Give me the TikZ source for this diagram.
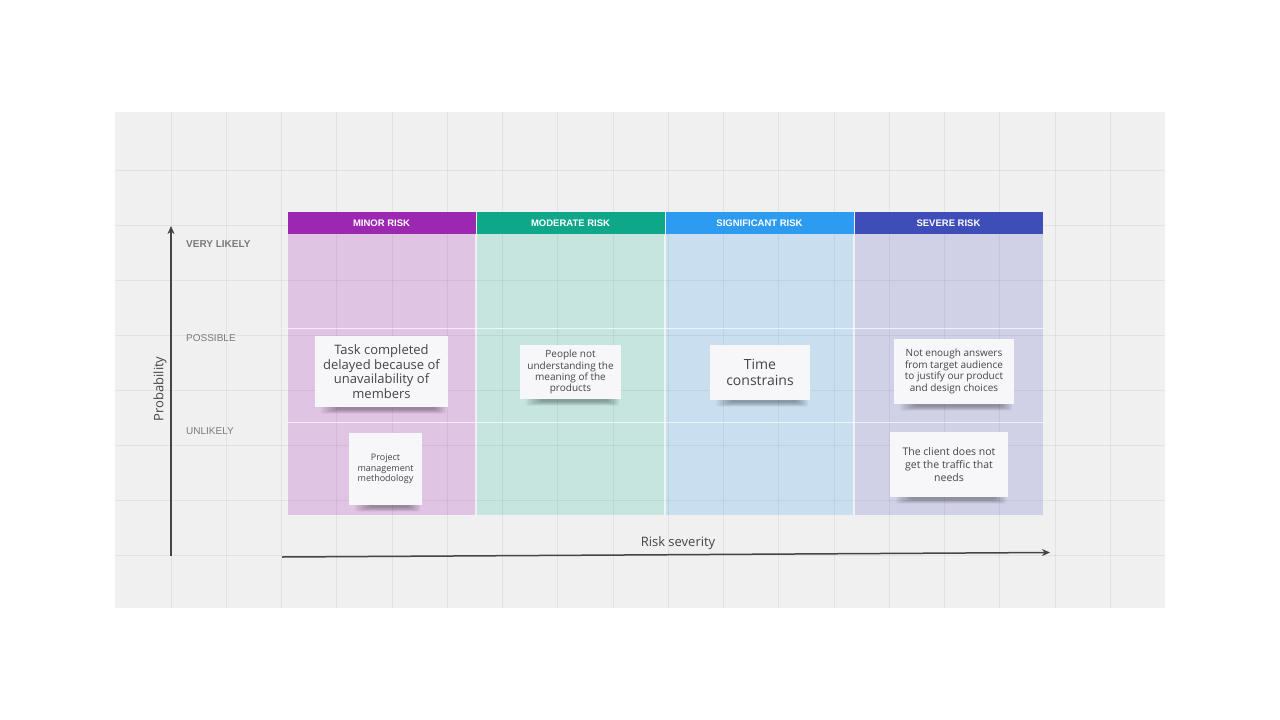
\documentclass[tikz,border=0pt]{standalone}
\usepackage{fontspec}
\setmainfont{Open Sans}
\newfontfamily\headfont{Liberation Sans}
\usetikzlibrary{arrows.meta}

\definecolor{boardbg}{HTML}{F0F0F0}
\definecolor{minorH}{HTML}{9C27B0}
\definecolor{moderateH}{HTML}{0FA789}
\definecolor{significantH}{HTML}{2D9BF0}
\definecolor{severeH}{HTML}{3F4DB8}
\definecolor{minorB}{HTML}{E0C4E4}
\definecolor{moderateB}{HTML}{C5E5DE}
\definecolor{significantB}{HTML}{C9DFF0}
\definecolor{severeB}{HTML}{D0D1E7}
\definecolor{notefill}{HTML}{F7F7F9}
\definecolor{notetext}{HTML}{454545}
\definecolor{axiscol}{HTML}{454545}
\definecolor{labelcol}{HTML}{7A7A7A}

\pgfdeclarelayer{shade}
\pgfdeclarelayer{notes}
\pgfsetlayers{main,shade,notes}

\tikzset{
  header/.style={minimum width=188pt, minimum height=22pt, inner sep=0pt,
    text=white, font=\headfont\bfseries\fontsize{9.5}{11}\selectfont},
  cell/.style={minimum width=188pt, minimum height=281pt, inner sep=0pt},
  rowlabel/.style={anchor=west, text=labelcol, inner sep=0pt,
    font=\headfont\fontsize{10}{11}\selectfont},
  note/.style={fill=notefill, inner sep=0pt, align=center, text=notetext},
  gridline/.style={black, opacity=0.055, line width=1pt},
  axis/.style={draw=axiscol, line width=1.5pt, -{Stealth[length=8pt,width=7pt,inset=2.5pt]}},
}

% soft shadow strip under the lower edge of a note
\newcommand{\noteshadow}[1]{%
  \foreach \k in {0,...,7}{%
    \fill[black, opacity=0.045, rounded corners=2pt]
      ([xshift={6pt+2.2pt*\k},yshift=1pt]#1.south west)
      rectangle ([xshift={-2pt-1.6pt*\k},yshift={-6.5pt+0.6pt*\k}]#1.south east);
  }%
}

\begin{document}
\begin{tikzpicture}[x=1pt,y=-1pt]
\useasboundingbox (0,0) rectangle (1280,720);
\fill[white] (0,0) rectangle (1280,720);

% whiteboard
\fill[boardbg] (115,112) rectangle (1165,608);

% matrix body
\node[cell, fill=minorB]       (c1) at (381.5,374.5) {};
\node[cell, fill=moderateB]    (c2) at (570.5,374.5) {};
\node[cell, fill=significantB] (c3) at (759.5,374.5) {};
\node[cell, fill=severeB]      (c4) at (948.5,374.5) {};

% board grid, seen through the matrix
\foreach \i in {0,...,17}
  \draw[gridline] ({171+55.25*\i},112) -- ({171+55.25*\i},608);
\foreach \j in {0,...,7}
  \draw[gridline] (115,{170+55.1*\j}) -- (1165,{170+55.1*\j});

% row and column separators
\draw[white, opacity=0.7, line width=1pt] (c1.west |- 0,328) -- (c4.east |- 0,328);
\draw[white, opacity=0.7, line width=1pt] (c1.west |- 0,422) -- (c4.east |- 0,422);
\draw[white, opacity=0.7, line width=1pt] (c1.north east) -- (c1.south east);
\draw[white, opacity=0.7, line width=1pt] (c2.north east) -- (c2.south east);
\draw[white, opacity=0.7, line width=1pt] (c3.north east) -- (c3.south east);

% column headers
\node[header, fill=minorH]       (h1) at (381.5,223) {MINOR RISK};
\node[header, fill=moderateH]    (h2) at (570.5,223) {MODERATE RISK};
\node[header, fill=significantH] (h3) at (759.5,223) {SIGNIFICANT RISK};
\node[header, fill=severeH]      (h4) at (948.5,223) {SEVERE RISK};

% row labels
\node[rowlabel, font=\headfont\bfseries\fontsize{10}{11}\selectfont] (r1) at (186,244) {VERY LIKELY};
\node[rowlabel] (r2) at (186,338) {POSSIBLE};
\node[rowlabel] (r3) at (186,431) {UNLIKELY};

% axes
\coordinate (yfrom) at (171,556);
\coordinate (yto)   at (171,226);
\coordinate (xfrom) at (282,557);
\coordinate (xto)   at (1050,552.5);
\draw[axis] (yfrom) -- (yto);
\draw[axis] (xfrom) -- (xto);
\node[rotate=90, text=axiscol, font=\fontsize{13}{15}\selectfont] (ylab) at (160,389) {Probability};
\node[text=axiscol, font=\fontsize{13}{15}\selectfont] (xlab) at (678,543) {Risk severity};

% sticky notes
\begin{pgfonlayer}{notes}
\node[note, minimum width=133pt, minimum height=71pt, font=\fontsize{13}{14.6}\selectfont]
  (n1) at (381.5,371.5) {Task completed\\delayed because of\\unavailability of\\members};
\node[note, minimum width=101pt, minimum height=54pt, font=\fontsize{10}{11.2}\selectfont]
  (n2) at (570.5,372) {People not\\understanding the\\meaning of the\\products};
\node[note, minimum width=100pt, minimum height=55pt, font=\fontsize{14}{16.5}\selectfont]
  (n3) at (760,372.5) {Time\\constrains};
\node[note, minimum width=120pt, minimum height=65pt, font=\fontsize{10}{11.7}\selectfont]
  (n4) at (954,371.5) {Not enough answers\\from target audience\\to justify our product\\and design choices};
\node[note, minimum width=73pt, minimum height=72pt, font=\fontsize{9}{10.5}\selectfont]
  (n5) at (385.5,469) {Project\\management\\methodology};
\node[note, minimum width=118pt, minimum height=65pt, font=\fontsize{10.5}{12.6}\selectfont]
  (n6) at (949,464.5) {The client does not\\get the traffic that\\needs};
\end{pgfonlayer}

% soft shadows under the notes
\begin{pgfonlayer}{shade}
\noteshadow{n1}
\noteshadow{n2}
\noteshadow{n3}
\noteshadow{n4}
\noteshadow{n5}
\noteshadow{n6}
\end{pgfonlayer}
\end{tikzpicture}
\end{document}
